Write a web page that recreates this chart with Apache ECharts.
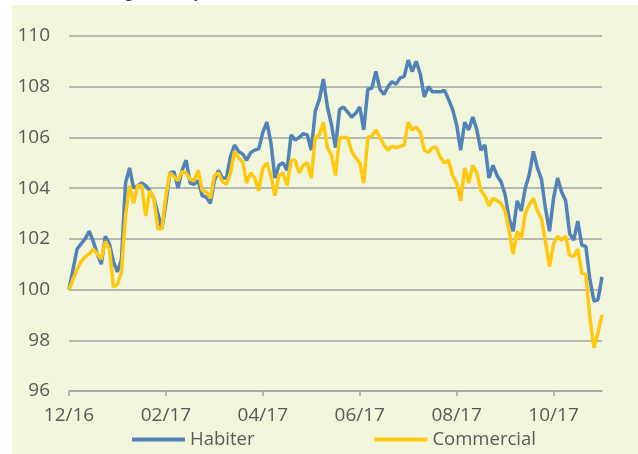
<!DOCTYPE html>
<html>
<head>
<meta charset="utf-8">
<script src="https://cdn.jsdelivr.net/npm/echarts@6.0.0/dist/echarts.min.js"></script>
<style>
  html, body { margin: 0; padding: 0; background: #fff; }
  #panel { position: absolute; left: 12px; top: 5px; width: 626px; height: 449px; background: #f2f6dc; }
  #chart { position: absolute; left: 0; top: 0; width: 638px; height: 454px; }
</style>
</head>
<body>
<div id="panel"></div>
<div id="chart"></div>
<script>
// index points every ~1/12 month, 12/16 -> end 11/17
const tickAt = [0, 24, 48, 72, 96, 120];
const tickLabels = ['12/16', '02/17', '04/17', '06/17', '08/17', '10/17'];

const habiter = [
  100.0, 100.8, 101.6, 101.8, 102.0, 102.3, 101.9, 101.4, 101.0, 102.1,
  101.8, 101.1, 100.7, 101.2, 104.2, 104.8, 104.0, 104.1, 104.2, 104.1,
  103.9, 103.6, 103.0, 102.4, 103.4, 104.6, 104.65, 104.0, 104.7, 105.1,
  104.2, 104.15, 104.3, 103.7, 103.65, 103.4, 104.3, 104.7, 104.4, 104.4,
  105.25, 105.7, 105.45, 105.35, 105.1, 105.4, 105.5, 105.55, 106.2, 106.6,
  105.8, 104.4, 104.9, 105.0, 104.7, 106.1, 105.9, 106.0, 106.15, 106.1,
  105.5, 107.05, 107.5, 108.3, 107.2, 106.5, 105.6, 107.1, 107.2, 107.0,
  106.8, 106.95, 107.2, 106.3, 107.9, 107.95, 108.6, 107.9, 107.7, 108.0,
  108.2, 108.1, 108.35, 108.4, 109.05, 108.6, 109.0, 108.5, 107.6, 108.0,
  107.8, 107.8, 107.8, 107.85, 107.5, 107.1, 106.5, 105.5, 106.6, 106.3,
  106.8, 106.3, 105.5, 105.7, 104.4, 104.9, 104.5, 104.25, 103.75, 102.8,
  102.3, 103.5, 103.1, 104.0, 104.55, 105.45, 104.8, 104.35, 103.2, 102.3,
  103.6, 104.4, 103.85, 103.5, 102.2, 101.95, 102.7, 101.75, 101.7, 100.4,
  99.55, 99.6, 100.5
];

const commercial = [
  100.0, 100.4, 100.8, 101.1, 101.3, 101.4, 101.6, 101.4, 101.2, 101.9,
  101.6, 100.1, 100.2, 100.7, 102.9, 104.1, 103.4, 104.1, 104.1, 102.9,
  103.9, 103.6, 102.4, 102.4, 103.7, 104.6, 104.45, 104.3, 104.65, 104.6,
  104.35, 104.3, 104.7, 103.9, 103.85, 103.6, 104.5, 104.6, 104.25, 104.15,
  104.6, 105.45, 105.2, 105.05, 104.2, 104.6, 104.4, 103.9, 104.8, 105.0,
  104.5, 103.7, 104.5, 104.6, 104.1, 105.1, 105.1, 104.6, 104.9, 105.0,
  104.4, 106.0, 106.1, 106.6, 105.6, 105.3, 104.5, 106.0, 106.0, 106.0,
  105.45, 105.2, 105.0, 104.2, 106.0, 106.05, 106.3, 106.0, 105.7, 105.5,
  105.65, 105.6, 105.65, 105.7, 106.6, 106.3, 106.4, 106.2, 105.5, 105.4,
  105.6, 105.6, 105.2, 105.0, 105.1, 104.5, 104.2, 103.5, 104.8, 104.2,
  104.9, 104.6, 103.9, 103.7, 103.3, 103.6, 103.5, 103.4, 103.1, 102.3,
  101.4, 102.3, 102.0, 103.0, 103.35, 103.6, 103.1, 102.8, 101.9, 100.9,
  101.8, 102.1, 101.95, 102.1, 101.35, 101.3, 101.6, 100.65, 100.6, 98.9,
  97.7, 98.3, 99.0
];

const cats = habiter.map((_, i) => i);
const isTick = (i) => tickAt.indexOf(i) >= 0;

const chart = echarts.init(document.getElementById('chart'), null, { renderer: 'canvas' });
chart.setOption({
  backgroundColor: 'transparent',
  animation: false,
  textStyle: { fontFamily: 'Open Sans' },
  graphic: [{
    type: 'text',
    left: 40,
    top: -15,
    style: {
      text: 'Rendement global moyen brut (indice 100 = 12/2016)',
      font: '15px "Open Sans"',
      fill: '#404040'
    }
  }],
  grid: { left: 69, right: 36, top: 36, bottom: 63 },
  legend: {
    left: 132,
    top: 430,
    padding: 0,
    icon: 'rect',
    itemWidth: 53,
    itemHeight: 4,
    itemGap: 120,
    textStyle: { color: '#595959', fontSize: 18.5, fontFamily: 'Open Sans' },
    data: ['Habiter', 'Commercial']
  },
  xAxis: {
    type: 'category',
    data: cats,
    boundaryGap: false,
    axisLine: { lineStyle: { color: '#a3a3a3', width: 1.5 } },
    axisTick: { show: true, length: 5, interval: (i) => isTick(i), lineStyle: { color: '#a3a3a3', width: 1.5 } },
    axisLabel: {
      interval: (i) => isTick(i),
      formatter: (v, i) => tickLabels[tickAt.indexOf(i)] || '',
      color: '#595959', fontSize: 19, margin: 15, fontFamily: 'Open Sans'
    },
    splitLine: { show: false }
  },
  yAxis: {
    type: 'value',
    min: 96, max: 110, interval: 2,
    axisLine: { show: false },
    axisTick: { show: false },
    axisLabel: { color: '#595959', fontSize: 19, margin: 19, fontFamily: 'Open Sans' },
    splitLine: { lineStyle: { color: '#a3a3a3', width: 1.5 } }
  },
  series: [
    {
      name: 'Habiter', type: 'line', data: habiter, symbol: 'none',
      itemStyle: { color: '#5283b8' },
      lineStyle: { color: '#5283b8', width: 3.5 }
    },
    {
      name: 'Commercial', type: 'line', data: commercial, symbol: 'none',
      itemStyle: { color: '#ffc912' },
      lineStyle: { color: '#ffc912', width: 3.5 }
    }
  ]
});
</script>
</body>
</html>
